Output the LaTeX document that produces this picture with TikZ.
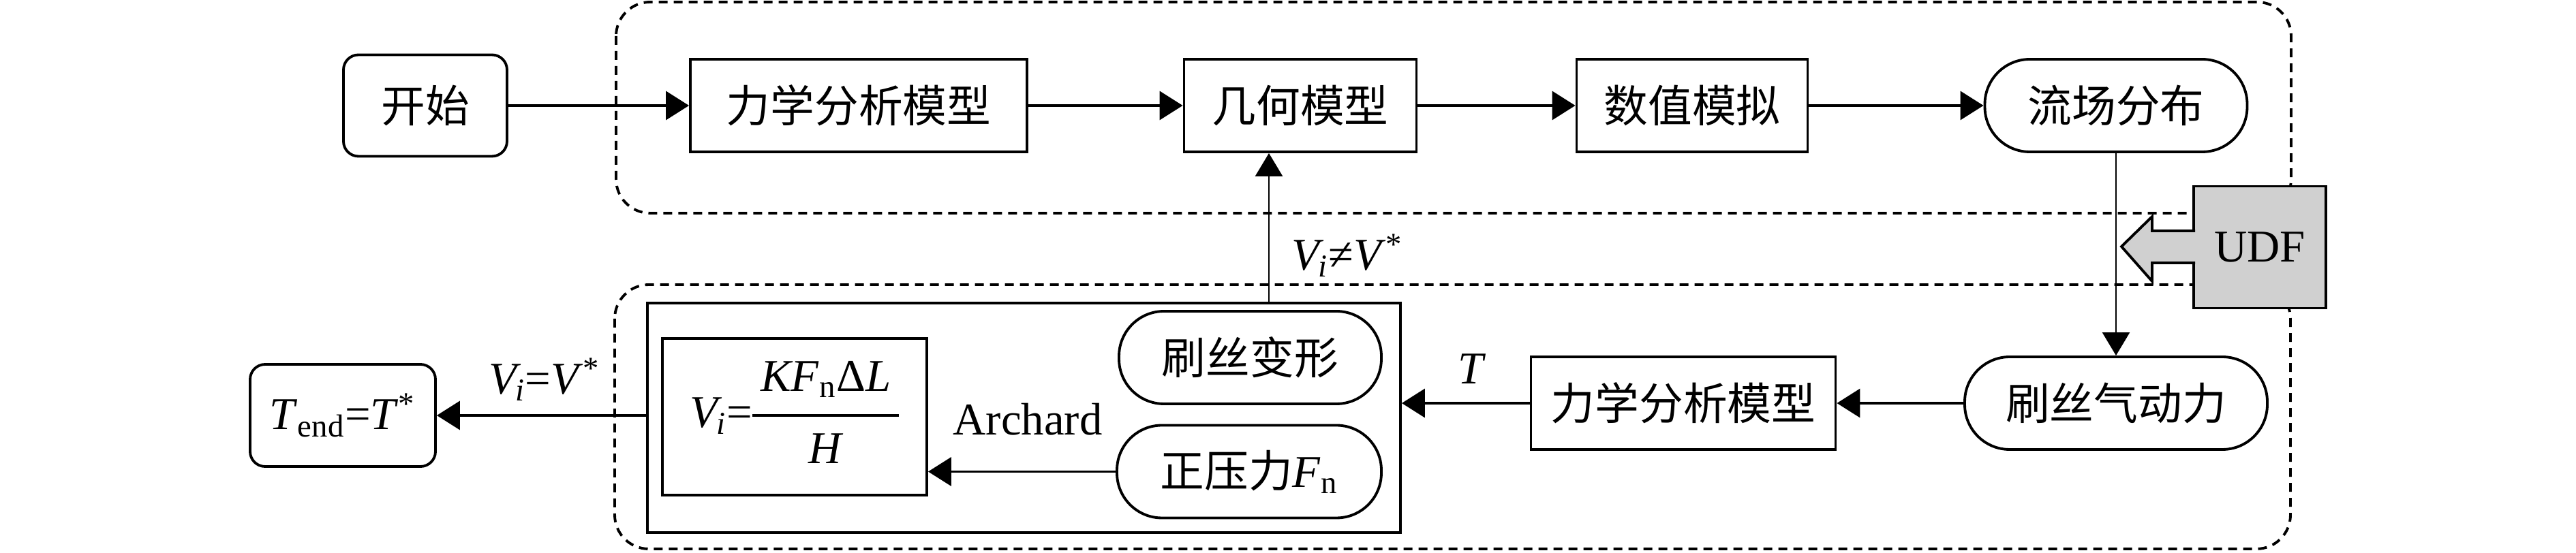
\documentclass[tikz,border=0pt]{standalone}
\usepackage{fontspec}
\setmainfont{Liberation Serif}
\newfontfamily\cjk[Scale=0.97]{Noto Sans CJK SC}
\usetikzlibrary{arrows.meta}
\newcommand{\zh}[1]{{\cjk #1}}
\newcommand{\Vi}{\textit{V}\kern-0.12em\textsubscript{\textit{i}}}
\definecolor{udfgray}{RGB}{208,208,208}
\tikzset{
	boxstyle/.style={rectangle,draw=black,line width=1.1pt,inner sep=0pt,minimum height=1.36cm},
	pillstyle/.style={boxstyle,rounded corners=0.66cm},
	termstyle/.style={boxstyle,rounded corners=0.22cm,minimum height=1.49cm},
	groupstyle/.style={draw=black,line width=1.1pt,dash pattern=on 0.13cm off 0.09cm,rounded corners=0.5cm},
	udfstyle/.style={draw=black,line width=1.1pt,fill=udfgray},
	arrowstyle/.style={line width=1.1pt,-{Triangle[length=0.34cm,width=0.42cm]}},
	thinarrowstyle/.style={line width=0.75pt,-{Triangle[length=0.34cm,width=0.40cm]}},
	labelstyle/.style={inner sep=0pt}
}

\begin{document}
\begin{tikzpicture}[font=\fontsize{19}{22}\selectfont]
		\useasboundingbox (0,0) rectangle (37.8,-8.12);
		% dashed groups
		\draw[groupstyle] (9.04,-0.03) rectangle (33.62,-3.13);
		\draw[groupstyle] (9.02,-4.18) rectangle (33.61,-8.06);
		% top row
		\node[termstyle,minimum width=2.40cm] (start) at (6.24,-1.55) {\zh{开始}};
		\node[boxstyle,minimum width=4.94cm] (mech1) at (12.60,-1.55) {\zh{力学分析模型}};
		\node[boxstyle,minimum width=3.41cm] (geo) at (19.08,-1.55) {\zh{几何模型}};
		\node[boxstyle,minimum width=3.39cm] (num) at (24.83,-1.55) {\zh{数值模拟}};
		\node[pillstyle,minimum width=3.85cm] (flow) at (31.05,-1.55) {\zh{流场分布}};
		% bottom row
		\node[pillstyle,minimum width=4.44cm] (aero) at (31.05,-5.92) {\zh{刷丝气动力}};
		\node[boxstyle,minimum width=4.47cm] (mech2) at (24.70,-5.92) {\zh{力学分析模型}};
		\node[boxstyle,minimum width=11.05cm,minimum height=3.37cm] (archbox) at (15.025,-6.135) {};
		\node[pillstyle,minimum width=3.85cm] (deform) at (18.345,-5.25) {\zh{刷丝变形}};
		\node[pillstyle,minimum width=3.88cm] (press) at (18.33,-6.925) {\zh{正压力}\textit{F}\textsubscript{n}};
		\node[boxstyle,minimum width=3.88cm,minimum height=2.30cm] (formula) at (11.66,-6.12)
			{\Vi=\setlength{\arrayrulewidth}{1.1pt}%
			\begin{tabular}{@{\hspace{0.12cm}}c@{\hspace{0.12cm}}}
			\textit{KF}\textsubscript{n}Δ\textit{L}\rule[-9.7pt]{0pt}{10pt}\\ \hline
			\rule{0pt}{19.6pt}\textit{H}
			\end{tabular}};
		\node[termstyle,minimum width=2.72cm,minimum height=1.50cm] (tend) at (5.03,-6.10)
			{\textit{T}\textsubscript{end}=\textit{T}\textsuperscript{*}};
		% UDF
		\node[boxstyle,fill=udfgray,minimum width=1.94cm,minimum height=1.79cm] (udf) at (33.16,-3.63) {UDF};
		\draw[udfstyle] (32.21,-3.39) -- (31.58,-3.39) -- (31.58,-3.18) -- (31.13,-3.62)
			-- (31.58,-4.13) -- (31.58,-3.86) -- (32.21,-3.86);
		\coordinate (fbx) at (18.62,0);
		% labels
		\node[labelstyle] (nelabel) at (19.77,-3.75) {\Vi≠\textit{V}\textsuperscript{*}};
		\node[labelstyle] (eqlabel) at (7.99,-5.57) {\Vi=\textit{V}\textsuperscript{*}};
		\node[labelstyle] (tlabel) at (21.60,-5.42) {\textit{T}};
		\node[labelstyle] (archlabel) at (15.08,-6.16) {Archard};
		% connectors
		\draw[arrowstyle] (start) -- (mech1);
		\draw[arrowstyle] (mech1) -- (geo);
		\draw[arrowstyle] (geo) -- (num);
		\draw[arrowstyle] (num) -- (flow);
		\draw[thinarrowstyle] (flow) -- (aero);
		\draw[arrowstyle] (aero) -- (mech2);
		\draw[arrowstyle] (mech2.west) -- (mech2.west -| archbox.east);
		\draw[arrowstyle] (press.west) -- (press.west -| formula.east);
		\draw[arrowstyle] (archbox.west |- tend.east) -- (tend.east);
		\draw[thinarrowstyle] (archbox.north -| fbx) -- (geo.south -| fbx);
\end{tikzpicture}
\end{document}
